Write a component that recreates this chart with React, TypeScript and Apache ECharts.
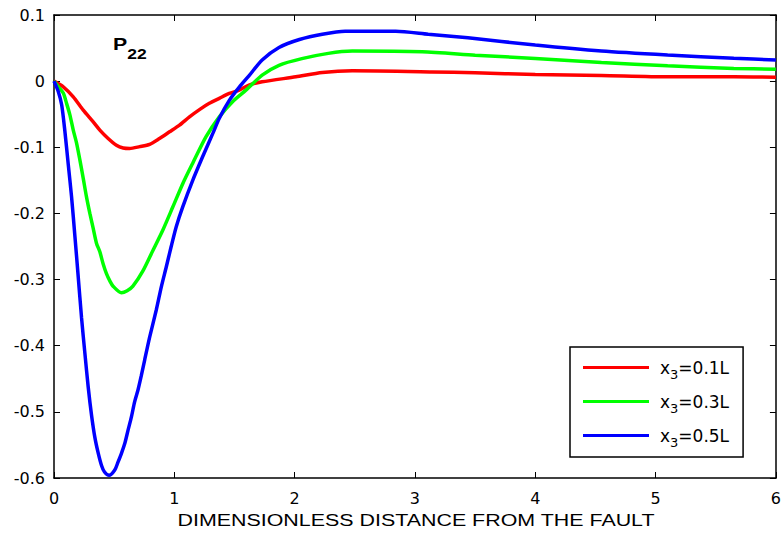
import React, { useEffect, useRef } from "react";
import * as echarts from "echarts";

// x3 = 0.1L (red)
const redX = [0, 0.077, 0.16, 0.243, 0.326, 0.381, 0.45, 0.519, 0.575, 0.629, 0.712, 0.795, 0.877, 0.96, 1.043, 1.126, 1.209, 1.291, 1.374, 1.457, 1.54, 1.62, 1.73, 2.01, 2.23, 2.48, 3.14, 3.5, 4.0, 4.55, 5.1, 5.65, 6.0];
const redY = [0, -0.0086, -0.0237, -0.0438, -0.0615, -0.074, -0.0867, -0.0968, -0.101, -0.1018, -0.099, -0.0955, -0.0867, -0.0766, -0.0665, -0.054, -0.043, -0.0335, -0.026, -0.0186, -0.0136, -0.006, -0.001, 0.0065, 0.013, 0.0156, 0.014, 0.0126, 0.0101, 0.0086, 0.0065, 0.0065, 0.006];

// x3 = 0.3L (green)
const greenX = [0, 0.036, 0.077, 0.105, 0.132, 0.16, 0.188, 0.215, 0.243, 0.27, 0.298, 0.325, 0.353, 0.381, 0.408, 0.436, 0.464, 0.491, 0.56, 0.608, 0.656, 0.739, 0.822, 0.905, 0.988, 1.07, 1.153, 1.264, 1.374, 1.484, 1.595, 1.73, 1.87, 2.06, 2.28, 2.48, 3.06, 3.5, 4.0, 4.55, 5.1, 5.65, 6.0];
const greenY = [0, -0.0086, -0.018, -0.034, -0.051, -0.074, -0.094, -0.119, -0.147, -0.175, -0.2, -0.222, -0.245, -0.258, -0.276, -0.291, -0.302, -0.31, -0.32, -0.317, -0.31, -0.287, -0.256, -0.225, -0.19, -0.155, -0.124, -0.084, -0.054, -0.031, -0.0136, 0.009, 0.024, 0.034, 0.042, 0.0454, 0.0443, 0.0393, 0.0343, 0.0282, 0.0231, 0.0192, 0.018];

// x3 = 0.5L (blue)
const blueX = [0, 0.036, 0.064, 0.09, 0.118, 0.146, 0.174, 0.201, 0.229, 0.257, 0.284, 0.312, 0.34, 0.367, 0.395, 0.42, 0.458, 0.505, 0.532, 0.56, 0.588, 0.615, 0.643, 0.67, 0.698, 0.726, 0.753, 0.795, 0.85, 0.892, 0.933, 0.974, 1.016, 1.07, 1.153, 1.236, 1.32, 1.374, 1.457, 1.54, 1.62, 1.73, 1.87, 2.04, 2.23, 2.42, 2.84, 3.11, 3.44, 4.0, 4.55, 5.1, 5.65, 6.0];
const blueY = [0, -0.016, -0.036, -0.075, -0.125, -0.175, -0.235, -0.295, -0.358, -0.412, -0.462, -0.505, -0.539, -0.562, -0.581, -0.591, -0.596, -0.588, -0.576, -0.563, -0.548, -0.528, -0.508, -0.485, -0.467, -0.445, -0.422, -0.387, -0.346, -0.311, -0.281, -0.25, -0.22, -0.19, -0.15, -0.114, -0.079, -0.056, -0.029, -0.009, 0.008, 0.032, 0.051, 0.063, 0.071, 0.0755, 0.0755, 0.071, 0.0655, 0.0545, 0.0455, 0.0395, 0.0345, 0.032];

const seriesNames = ["x3=0.1L", "x3=0.3L", "x3=0.5L"];
const seriesColors = ["#ff0000", "#00ff00", "#0000ff"];
const xTicks = { min: 0, max: 6, interval: 1 };
const yTicks = { min: -0.6, max: 0.1, interval: 0.1 };
const xTitle = "DIMENSIONLESS DISTANCE FROM THE FAULT";

const zip = (xs: number[], ys: number[]) => xs.map((x, i) => [x, ys[i]]);

export default function App() {
  const ref = useRef<HTMLDivElement>(null);
  useEffect(() => {
    if (!ref.current) return;
    const chart = echarts.init(ref.current, null, { renderer: "svg" });
    const datasets = [zip(redX, redY), zip(greenX, greenY), zip(blueX, blueY)];
    const axisCommon = {
      type: "value" as const,
      splitLine: { show: false },
      axisLine: { show: true, onZero: false, lineStyle: { color: "#000", width: 1.5 } },
      axisTick: { show: true, inside: true, length: 6, lineStyle: { color: "#000", width: 1 } },
    };
    const numLabel = { color: "#000", fontFamily: "DejaVu Sans", fontSize: 16 };
    chart.setOption({
      animation: false,
      backgroundColor: "#fff",
      grid: { left: 54, right: 6, top: 15, bottom: 55, containLabel: false },
      xAxis: [
        {
          ...axisCommon,
          ...xTicks,
          position: "bottom",
          axisLabel: { ...numLabel, margin: 12 },
        },
        {
          ...axisCommon,
          ...xTicks,
          position: "top",
          axisLabel: { show: false },
        },
      ],
      yAxis: [
        {
          ...axisCommon,
          ...yTicks,
          position: "left",
          axisLabel: {
            ...numLabel,
            margin: 9,
            formatter: (v: number) => String(Math.round(v * 10) / 10),
          },
        },
        {
          ...axisCommon,
          ...yTicks,
          position: "right",
          axisLabel: { show: false },
        },
      ],
      legend: {
        orient: "vertical",
        left: 570,
        top: 347,
        padding: [7, 14, 8, 13],
        itemGap: 7,
        icon: "rect",
        itemWidth: 66,
        itemHeight: 3,
        borderColor: "#000",
        borderWidth: 1.5,
        borderRadius: 0,
        backgroundColor: "#fff",
        selectedMode: false,
        data: seriesNames,
        formatter: (name: string) => `{x|x}{s|3}{t|${name.slice(2)}}`,
        textStyle: {
          color: "#000",
          rich: {
            x: { fontFamily: "DejaVu Sans", fontSize: 17, lineHeight: 17, verticalAlign: "middle", padding: [0, 0, 0, 6], color: "#000" },
            s: { fontFamily: "DejaVu Sans", fontSize: 13, lineHeight: 13, verticalAlign: "middle", padding: [14, 0, 0, 0], color: "#000" },
            t: { fontFamily: "DejaVu Sans", fontSize: 17, lineHeight: 17, verticalAlign: "middle", color: "#000" },
          },
        },
      },
      graphic: [
        {
          type: "text",
          x: 416,
          y: 520,
          scaleX: 1.26,
          style: {
            text: xTitle,
            fill: "#000",
            fontFamily: "Liberation Sans",
            fontSize: 17,
            align: "center",
            verticalAlign: "middle",
            textAlign: "center",
            textVerticalAlign: "middle",
          },
        },
        {
          type: "text",
          x: 113,
          y: 44,
          scaleX: 1.25,
          style: {
            text: "{p|P}{s|22}",
            fill: "#000",
            align: "left",
            verticalAlign: "middle",
            textAlign: "left",
            textVerticalAlign: "middle",
            rich: {
              p: { fontFamily: "Liberation Sans", fontWeight: "bold", fontSize: 17, lineHeight: 17, verticalAlign: "middle", fill: "#000" },
              s: { fontFamily: "Liberation Sans", fontWeight: "bold", fontSize: 14, lineHeight: 14, verticalAlign: "middle", padding: [20, 0, 0, 0], fill: "#000" },
            },
          },
        },
      ],
      series: seriesNames.map((name, i) => ({
        name,
        type: "line",
        xAxisIndex: 0,
        yAxisIndex: 0,
        data: datasets[i],
        showSymbol: false,
        symbol: "none",
        smooth: 0.25,
        lineStyle: { color: seriesColors[i], width: 3.5 },
        itemStyle: { color: seriesColors[i] },
        z: 2 + i,
      })),
    });
    return () => chart.dispose();
  }, []);
  return (
    <div
      ref={ref}
      style={{ position: "absolute", left: 0, top: 0, width: 784, height: 533, background: "#fff" }}
    />
  );
}
